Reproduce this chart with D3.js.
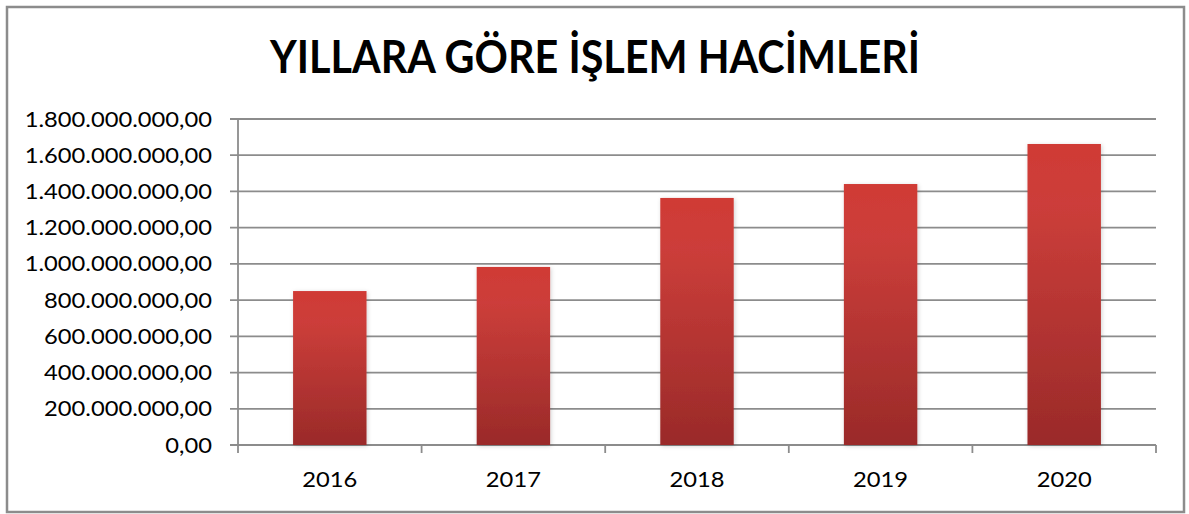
<!DOCTYPE html>
<html>
<head>
<meta charset="utf-8">
<script src="https://cdn.jsdelivr.net/npm/d3@7"></script>
<style>
  html, body { margin: 0; padding: 0; background: #fff; }
  svg { display: block; }
</style>
</head>
<body>
<div id="chart"></div>
<script>
const years = ["2016", "2017", "2018", "2019", "2020"];
const volumes = [850000000, 983000000, 1364000000, 1441000000, 1662000000];
const yTicks = [0, 200000000, 400000000, 600000000, 800000000, 1000000000,
    1200000000, 1400000000, 1600000000, 1800000000];
const title = "YILLARA GÖRE İŞLEM HACİMLERİ";

const width = 1189, height = 514;
const plot = {left: 238, right: 1156, top: 119, bottom: 445};
// Calibri is wider per height than Lato, so labels get stretched a bit
const stretch = 1.13;

const svg = d3.select("#chart")
    .append("svg")
    .attr("width", width)
    .attr("height", height);

const defs = svg.append("defs");
const grad = defs.append("linearGradient")
    .attr("id", "barGrad")
    .attr("x1", 0).attr("y1", 0).attr("x2", 0).attr("y2", 1);
grad.append("stop").attr("offset", "0%").attr("stop-color", "#d03a35");
grad.append("stop").attr("offset", "20%").attr("stop-color", "#cc3e3a");
grad.append("stop").attr("offset", "100%").attr("stop-color", "#9a2a29");

const shadow = defs.append("filter")
    .attr("id", "shadow")
    .attr("x", "-20%").attr("y", "-5%").attr("width", "140%").attr("height", "110%");
shadow.append("feDropShadow")
    .attr("dx", 1).attr("dy", 1).attr("stdDeviation", 2)
    .attr("flood-color", "#000").attr("flood-opacity", 0.18);

// outer frame
svg.append("rect")
    .attr("x", 7).attr("y", 7)
    .attr("width", 1177).attr("height", 505)
    .attr("fill", "#fff")
    .attr("stroke", "#8c8c8c")
    .attr("stroke-width", 2.5);

// title
svg.append("text")
    .attr("x", 595)
    .attr("y", 73)
    .attr("text-anchor", "middle")
    .attr("font-family", "Lato, 'Open Sans', sans-serif")
    .attr("font-weight", "bold")
    .attr("font-size", 45)
    .attr("fill", "#000")
    .attr("textLength", 650)
    .attr("lengthAdjust", "spacingAndGlyphs")
    .text(title);

const x = d3.scaleBand()
    .domain(years)
    .range([plot.left, plot.right])
    .paddingInner(0.6)
    .paddingOuter(0.3);

const y = d3.scaleLinear()
    .domain([0, 1800000000])
    .range([plot.bottom, plot.top]);

const fmt = function (v) {
    const s = d3.format(",.2f")(v);
    return s.replace(/,/g, "#").replace(".", ",").replace(/#/g, ".");
};

function widen(sel) {
    sel.each(function () {
        const w = this.getComputedTextLength();
        d3.select(this)
            .attr("textLength", w * stretch)
            .attr("lengthAdjust", "spacingAndGlyphs");
    });
}

// gridlines
svg.append("g")
    .selectAll("line")
    .data(yTicks)
    .enter().append("line")
    .attr("x1", plot.left - 8)
    .attr("x2", plot.right)
    .attr("y1", d => y(d))
    .attr("y2", d => y(d))
    .attr("stroke", "#8c8c8c")
    .attr("stroke-width", 1.8);

// y axis line
svg.append("line")
    .attr("x1", plot.left).attr("x2", plot.left)
    .attr("y1", plot.top).attr("y2", plot.bottom + 8)
    .attr("stroke", "#8c8c8c")
    .attr("stroke-width", 1.8);

// y labels
svg.append("g")
    .selectAll("text")
    .data(yTicks)
    .enter().append("text")
    .attr("x", 212)
    .attr("y", d => y(d) + 7.5)
    .attr("text-anchor", "end")
    .attr("font-family", "Lato, 'Open Sans', sans-serif")
    .attr("font-size", 21)
    .attr("fill", "#000")
    .text(fmt)
    .call(widen);

// x ticks at category boundaries
const bounds = years.map(d => x(d) - x.step() * 0.3).slice(1).concat([plot.right]);
svg.append("g")
    .selectAll("line")
    .data(bounds)
    .enter().append("line")
    .attr("x1", d => d).attr("x2", d => d)
    .attr("y1", plot.bottom).attr("y2", plot.bottom + 8)
    .attr("stroke", "#8c8c8c")
    .attr("stroke-width", 1.8);

// bars
svg.append("g")
    .selectAll("rect")
    .data(volumes)
    .enter().append("rect")
    .attr("x", (d, i) => x(years[i]))
    .attr("width", x.bandwidth())
    .attr("y", d => y(d))
    .attr("height", d => y(0) - y(d))
    .attr("fill", "url(#barGrad)")
    .attr("filter", "url(#shadow)");

// x labels
svg.append("g")
    .selectAll("text")
    .data(years)
    .enter().append("text")
    .attr("x", d => x(d) + x.bandwidth() / 2)
    .attr("y", 487)
    .attr("text-anchor", "middle")
    .attr("font-family", "Lato, 'Open Sans', sans-serif")
    .attr("font-size", 21)
    .attr("fill", "#000")
    .text(d => d)
    .call(widen);
</script>
</body>
</html>
